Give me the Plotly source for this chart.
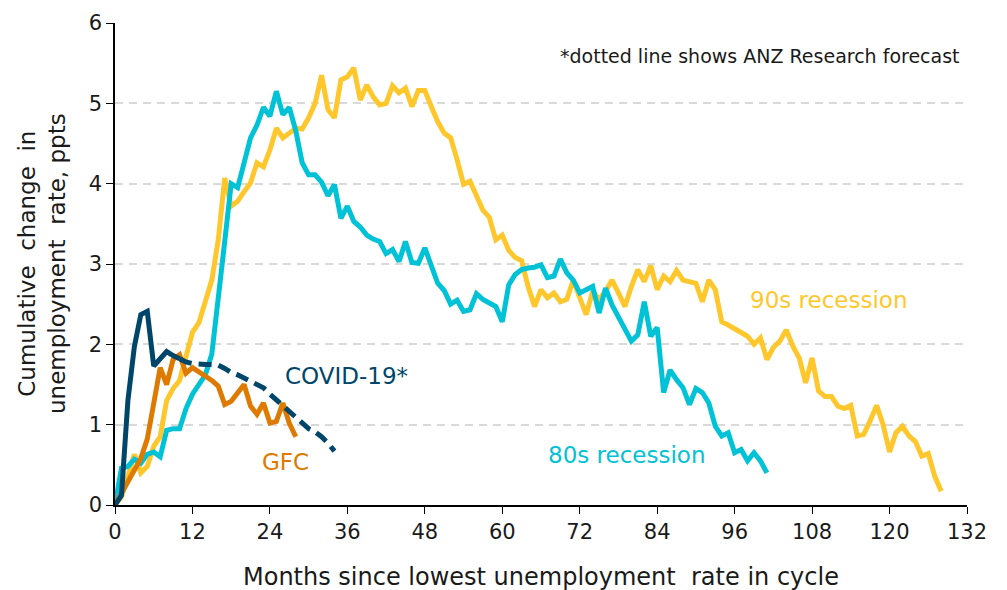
import plotly.graph_objects as go

# ---------------- data ----------------
x_ticks = [0, 12, 24, 36, 48, 60, 72, 84, 96, 108, 120, 132]
y_ticks = [0, 1, 2, 3, 4, 5, 6]

# 90s recession (months 0..128)
nineties = [0, 0.10, 0.36, 0.63, 0.40, 0.48, 0.73, 0.85, 1.30, 1.45,
            1.55, 1.85, 2.15, 2.27, 2.56, 2.80, 3.30, 4.07, 3.72, 3.78,
            3.90, 4.01, 4.26, 4.21, 4.42, 4.69, 4.57, 4.63, 4.69, 4.68,
            4.82, 5.00, 5.35, 4.92, 4.82, 5.29, 5.33, 5.44, 5.04, 5.23,
            5.08, 4.98, 5.00, 5.22, 5.13, 5.19, 4.96, 5.16, 5.16, 4.96,
            4.77, 4.63, 4.57, 4.30, 3.99, 4.03, 3.84, 3.67, 3.58, 3.30,
            3.36, 3.17, 3.08, 3.04, 2.72, 2.47, 2.68, 2.58, 2.64, 2.53,
            2.56, 2.80, 2.58, 2.37, 2.66, 2.56, 2.66, 2.80, 2.64, 2.47,
            2.72, 2.93, 2.78, 2.98, 2.68, 2.85, 2.78, 2.92, 2.80, 2.78,
            2.76, 2.53, 2.80, 2.68, 2.28, 2.24, 2.19, 2.14, 2.10, 2.00,
            2.08, 1.81, 1.96, 2.04, 2.18, 1.98, 1.83, 1.52, 1.83, 1.42,
            1.35, 1.35, 1.23, 1.20, 1.24, 0.86, 0.88, 1.05, 1.24, 1.00,
            0.66, 0.90, 0.98, 0.86, 0.79, 0.61, 0.64, 0.36, 0.17]

# 80s recession (months 0..101)
eighties = [0, 0.46, 0.48, 0.57, 0.52, 0.63, 0.66, 0.60, 0.93, 0.95,
            0.95, 1.20, 1.38, 1.50, 1.62, 1.88, 2.65, 3.28, 4.00, 3.95,
            4.26, 4.57, 4.73, 4.95, 4.84, 5.15, 4.86, 4.95, 4.66, 4.26,
            4.11, 4.11, 4.02, 3.85, 3.99, 3.57, 3.72, 3.53, 3.46, 3.36,
            3.31, 3.28, 3.13, 3.18, 3.03, 3.28, 3.02, 3.01, 3.20, 2.98,
            2.76, 2.67, 2.50, 2.55, 2.41, 2.43, 2.63, 2.56, 2.52, 2.47,
            2.28, 2.74, 2.87, 2.93, 2.95, 2.96, 2.99, 2.83, 2.85, 3.06,
            2.89, 2.80, 2.64, 2.68, 2.72, 2.39, 2.70, 2.49, 2.33, 2.19,
            2.04, 2.12, 2.53, 2.10, 2.21, 1.40, 1.68, 1.56, 1.46, 1.25,
            1.45, 1.40, 1.27, 0.98, 0.86, 0.90, 0.65, 0.69, 0.55, 0.65,
            0.55, 0.40]

# GFC (months 0..28)
gfc = [0, 0.15, 0.28, 0.42, 0.58, 0.82, 1.30, 1.71, 1.50, 1.81,
       1.87, 1.64, 1.71, 1.66, 1.60, 1.55, 1.48, 1.25, 1.29, 1.40,
       1.50, 1.23, 1.13, 1.27, 1.02, 1.04, 1.27, 1.02, 0.85]

# COVID-19 actual (months 0..10)
covid_actual = [0, 0.12, 1.30, 1.97, 2.37, 2.41, 1.73, 1.82, 1.91, 1.86, 1.82]
# COVID-19 ANZ Research forecast (months 10..34)
covid_forecast_start = 10
covid_forecast = [1.82, 1.78, 1.76, 1.75, 1.75, 1.75, 1.74, 1.70, 1.65, 1.62,
                  1.58, 1.55, 1.51, 1.46, 1.38, 1.31, 1.23, 1.15, 1.09, 1.01,
                  0.95, 0.91, 0.85, 0.77, 0.67]

# ---------------- styles ----------------
C_90 = "#FFC72C"
C_80 = "#00C2D6"
C_GFC = "#DF7A00"
C_COVID = "#00466B"
FONT = "DejaVu Sans"
TXT = "#1a1a1a"
LW = 5

fig = go.Figure()

fig.add_trace(go.Scatter(x=list(range(len(nineties))), y=nineties, mode="lines",
                         line=dict(color=C_90, width=LW), name="90s recession"))
fig.add_trace(go.Scatter(x=list(range(len(eighties))), y=eighties, mode="lines",
                         line=dict(color=C_80, width=LW), name="80s recession"))
fig.add_trace(go.Scatter(x=list(range(len(gfc))), y=gfc, mode="lines",
                         line=dict(color=C_GFC, width=LW), name="GFC"))
fig.add_trace(go.Scatter(x=list(range(covid_forecast_start, covid_forecast_start + len(covid_forecast))),
                         y=covid_forecast, mode="lines",
                         line=dict(color=C_COVID, width=LW, dash="13px,7px"), name="COVID-19 forecast"))
fig.add_trace(go.Scatter(x=list(range(len(covid_actual))), y=covid_actual, mode="lines",
                         line=dict(color=C_COVID, width=LW), name="COVID-19"))

fig.update_layout(
    width=1007, height=590,
    margin=dict(l=115, r=40, t=23, b=85),
    paper_bgcolor="white", plot_bgcolor="white",
    showlegend=False,
    font=dict(family=FONT, color=TXT, size=21),
    xaxis=dict(range=[0, 132], tickvals=x_ticks, ticktext=[str(v) for v in x_ticks],
               showgrid=False, zeroline=False, showline=True, linecolor="#000000", linewidth=1.5,
               ticks="outside", ticklen=7, tickwidth=1.3, tickcolor="#000000",
               tickfont=dict(family=FONT, size=21, color=TXT)),
    yaxis=dict(range=[0, 6], tickvals=y_ticks, ticktext=[str(v) for v in y_ticks],
               showgrid=True, gridcolor="#D9D9D9", gridwidth=1.5, griddash="8px,6px",
               zeroline=False, showline=True, linecolor="#000000", linewidth=1.5,
               ticks="outside", ticklen=7, tickwidth=1.3, tickcolor="#000000",
               tickfont=dict(family=FONT, size=21, color=TXT)),
    annotations=[
        dict(text="Months since lowest unemployment&nbsp; rate in cycle", xref="paper", yref="paper",
             x=0.5, y=0, yshift=-72, xanchor="center", yanchor="middle", showarrow=False,
             font=dict(family=FONT, size=24, color=TXT)),
        dict(text="Cumulative&nbsp; change&nbsp; in<br>unemployment&nbsp; rate, ppts", xref="paper", yref="paper",
             x=0, y=0.5, xshift=-73, xanchor="center", yanchor="middle", textangle=-90, showarrow=False,
             font=dict(family=FONT, size=23, color=TXT)),
        dict(text="*dotted line shows ANZ Research forecast", xref="paper", yref="paper",
             x=0.9945, y=0.932, xanchor="right", yanchor="middle", showarrow=False,
             font=dict(family=FONT, size=19, color=TXT)),
        dict(text="COVID-19*", xref="paper", yref="paper",
             x=(346 - 115) / 852, y=(505.5 - 376) / 482, xanchor="center", yanchor="middle", showarrow=False,
             font=dict(family=FONT, size=23, color=C_COVID)),
        dict(text="GFC", xref="paper", yref="paper",
             x=(285 - 115) / 852, y=(505.5 - 462) / 482, xanchor="center", yanchor="middle", showarrow=False,
             font=dict(family=FONT, size=23, color=C_GFC)),
        dict(text="80s recession", xref="paper", yref="paper",
             x=(626 - 115) / 852, y=(505.5 - 455) / 482, xanchor="center", yanchor="middle", showarrow=False,
             font=dict(family=FONT, size=23, color=C_80)),
        dict(text="90s recession", xref="paper", yref="paper",
             x=(828 - 115) / 852, y=(505.5 - 300) / 482, xanchor="center", yanchor="middle", showarrow=False,
             font=dict(family=FONT, size=23, color=C_90)),
    ],
)

fig.write_html("out.html", config={"displayModeBar": False},
               post_script="document.body.style.margin='0';document.body.style.overflow='hidden';")
